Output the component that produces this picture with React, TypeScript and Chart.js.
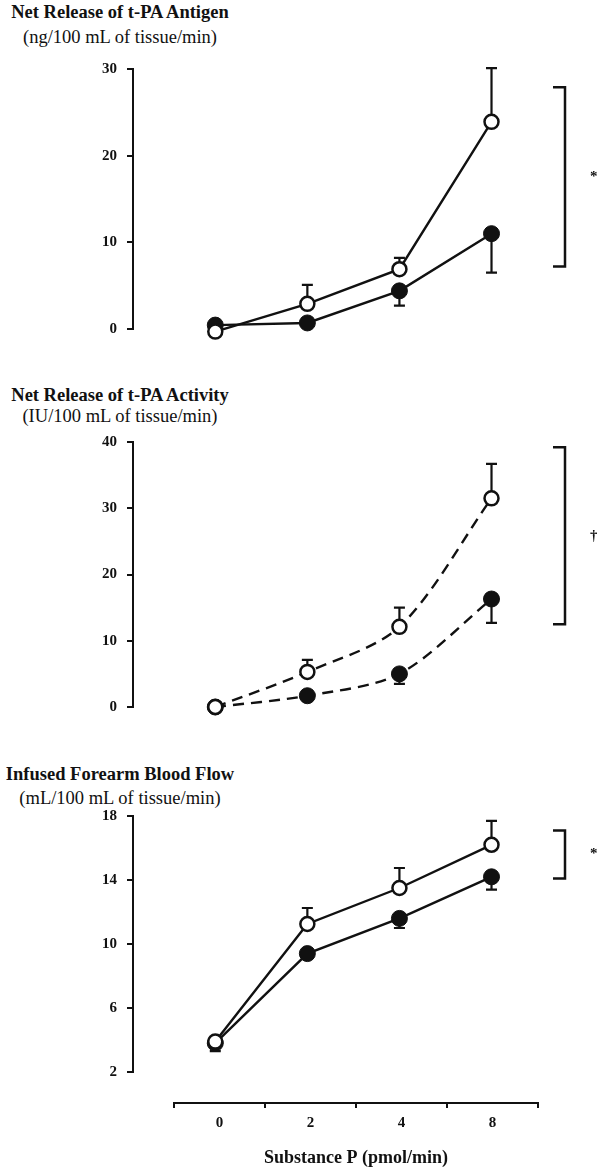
import React, { useEffect, useRef } from 'react';
import { Chart, registerables } from 'chart.js';
Chart.register(...registerables);

// ---- data ----
const doseLabels = ['0', '2', '4', '8'];
const doseIndex = [0, 1, 2, 3];

const antigenOpen = [-0.3, 2.9, 6.9, 23.9];
const antigenFilled = [0.45, 0.7, 4.4, 11.0];
const antigenOpenErrTop = [null, 5.1, 8.2, 30.1];
const antigenFilledErrBottom = [null, null, 2.7, 6.5];
const antigenBracket = [27.9, 7.2];
const antigenTicks = [0, 10, 20, 30];

const activityOpen = [0, 5.3, 12.1, 31.5];
const activityFilled = [0, 1.7, 5.0, 16.3];
const activityOpenErrTop = [null, 7.1, 15.0, 36.7];
const activityFilledErrBottom = [null, null, 3.5, 12.7];
const activityBracket = [39.2, 12.5];
const activityTicks = [0, 10, 20, 30, 40];

const flowOpen = [3.9, 11.25, 13.5, 16.2];
const flowFilled = [3.8, 9.4, 11.6, 14.2];
const flowOpenErrTop = [null, 12.25, 14.75, 17.7];
const flowFilledErrBottom = [3.3, null, 11.0, 13.4];
const flowBracket = [17.1, 14.1];
const flowTicks = [2, 6, 10, 14, 18];

// ---- styles / layout ----
const INK = '#111';
const SERIF = '"Liberation Serif", "Times New Roman", serif';
const W = 597;
const AXIS_X = 133;
const FIRST_X = 217;
const STEP_X = 94;
const BRACKET_X = 565;
const BRACKET_ARM = 12;

type PanelCfg = {
  top: number;
  height: number;
  areaTop: number;
  areaBottom: number;
  min: number;
  max: number;
  ticks: number[];
  open: number[];
  filled: number[];
  openErr: (number | null)[];
  filledErr: (number | null)[];
  bracket: number[];
  symbol: string;
  dashed: boolean;
};

const panels: PanelCfg[] = [
  {
    top: 45, height: 310, areaTop: 69, areaBottom: 329, min: 0, max: 30, ticks: antigenTicks,
    open: antigenOpen, filled: antigenFilled, openErr: antigenOpenErrTop, filledErr: antigenFilledErrBottom,
    bracket: antigenBracket, symbol: '*', dashed: false,
  },
  {
    top: 418, height: 316, areaTop: 442, areaBottom: 707, min: 0, max: 40, ticks: activityTicks,
    open: activityOpen, filled: activityFilled, openErr: activityOpenErrTop, filledErr: activityFilledErrBottom,
    bracket: activityBracket, symbol: '\u2020', dashed: true,
  },
  {
    top: 792, height: 306, areaTop: 816, areaBottom: 1072, min: 2, max: 18, ticks: flowTicks,
    open: flowOpen, filled: flowFilled, openErr: flowOpenErrTop, filledErr: flowFilledErrBottom,
    bracket: flowBracket, symbol: '*', dashed: false,
  },
];

const titles = [
  { main: 'Net Release of t-PA Antigen', sub: '(ng/100 mL of tissue/min)', mainTop: 3, subTop: 28 },
  { main: 'Net Release of t-PA Activity', sub: '(IU/100 mL of tissue/min)', mainTop: 386, subTop: 407 },
  { main: 'Infused Forearm Blood Flow', sub: '(mL/100 mL of tissue/min)', mainTop: 765, subTop: 789 },
];

function Panel({ cfg }: { cfg: PanelCfg }) {
  const ref = useRef<HTMLCanvasElement>(null);
  useEffect(() => {
    if (!ref.current) return;
    const xMin = (AXIS_X - FIRST_X) / STEP_X;
    const xMax = (W - FIRST_X) / STEP_X;
    const annot = {
      id: 'annot',
      beforeDatasetsDraw(chart: any) {
        const { ctx, scales } = chart;
        const x = scales.x, y = scales.y;
        ctx.save();
        ctx.strokeStyle = INK;
        ctx.lineWidth = 2.2;
        const draw = (vals: number[], ends: (number | null)[]) => {
          vals.forEach((v, i) => {
            const e = ends[i];
            if (e === null || e === undefined) return;
            const px = x.getPixelForValue(doseIndex[i]);
            const py = y.getPixelForValue(v);
            const pe = y.getPixelForValue(e);
            ctx.beginPath();
            ctx.moveTo(px, py);
            ctx.lineTo(px, pe);
            ctx.moveTo(px - 5.5, pe);
            ctx.lineTo(px + 5.5, pe);
            ctx.stroke();
          });
        };
        draw(cfg.open, cfg.openErr);
        draw(cfg.filled, cfg.filledErr);
        ctx.restore();
      },
      afterDatasetsDraw(chart: any) {
        const { ctx, scales } = chart;
        const y = scales.y;
        const t = y.getPixelForValue(cfg.bracket[0]);
        const b = y.getPixelForValue(cfg.bracket[1]);
        ctx.save();
        ctx.strokeStyle = INK;
        ctx.lineWidth = 2.5;
        ctx.beginPath();
        ctx.moveTo(BRACKET_X - BRACKET_ARM, t);
        ctx.lineTo(BRACKET_X, t);
        ctx.lineTo(BRACKET_X, b);
        ctx.lineTo(BRACKET_X - BRACKET_ARM, b);
        ctx.stroke();
        ctx.fillStyle = INK;
        ctx.font = `bold 15px ${SERIF}`;
        ctx.textAlign = 'left';
        ctx.textBaseline = 'middle';
        ctx.fillText(cfg.symbol, 590, (t + b) / 2);
        ctx.restore();
      },
    };
    const toPts = (arr: number[]) => arr.map((v, i) => ({ x: doseIndex[i], y: v }));
    const chart = new Chart(ref.current, {
      type: 'line',
      data: {
        datasets: [
          {
            label: 'open',
            data: toPts(cfg.open),
            borderColor: INK,
            borderWidth: 2.4,
            borderDash: cfg.dashed ? [11, 7] : [],
            tension: cfg.dashed ? 0.3 : 0,
            pointRadius: 7,
            pointBorderWidth: 2.5,
            pointBackgroundColor: '#fff',
            pointBorderColor: INK,
            clip: false,
          } as any,
          {
            label: 'filled',
            data: toPts(cfg.filled),
            borderColor: INK,
            borderWidth: 2.4,
            borderDash: cfg.dashed ? [11, 7] : [],
            tension: cfg.dashed ? 0.3 : 0,
            pointRadius: 8,
            pointBorderWidth: 1,
            pointBackgroundColor: INK,
            pointBorderColor: INK,
            clip: false,
          } as any,
        ],
      },
      options: {
        animation: false,
        responsive: false,
        layout: {
          padding: { top: cfg.areaTop - cfg.top, bottom: cfg.top + cfg.height - cfg.areaBottom, left: 0, right: 0 },
        },
        plugins: { legend: { display: false }, tooltip: { enabled: false } },
        scales: {
          x: { type: 'linear', min: xMin, max: xMax, display: false },
          y: {
            type: 'linear',
            position: 'left',
            min: cfg.min,
            max: cfg.max,
            afterBuildTicks: (s: any) => {
              s.ticks = cfg.ticks.map((v) => ({ value: v }));
            },
            afterFit: (s: any) => {
              s.width = AXIS_X;
            },
            grid: { drawOnChartArea: false, tickLength: 6, color: INK, lineWidth: 2 },
            border: { display: true, color: INK, width: 2 },
            ticks: { color: INK, padding: 10, font: { family: SERIF, weight: 'bold', size: 15 } },
          },
        },
      } as any,
      plugins: [annot],
    });
    return () => chart.destroy();
  }, [cfg]);
  return (
    <canvas
      ref={ref}
      width={W}
      height={cfg.height}
      style={{ position: 'absolute', left: 0, top: cfg.top, width: W, height: cfg.height }}
    />
  );
}

function DoseAxis() {
  const ref = useRef<HTMLCanvasElement>(null);
  const top = 1090;
  const height = 84;
  useEffect(() => {
    if (!ref.current) return;
    const chart = new Chart(ref.current, {
      type: 'line',
      data: { labels: doseLabels, datasets: [{ data: [], borderWidth: 0, pointRadius: 0 }] },
      options: {
        animation: false,
        responsive: false,
        layout: { padding: { left: 174, right: W - 538, top: 0, bottom: 0 } },
        plugins: { legend: { display: false }, tooltip: { enabled: false } },
        scales: {
          x: {
            type: 'category',
            offset: true,
            afterFit: (s: any) => {
              s.height = height - 13;
            },
            grid: { offset: true, drawOnChartArea: false, tickLength: 5, color: INK, lineWidth: 2 },
            border: { display: true, color: INK, width: 2 },
            ticks: { color: INK, padding: 6, maxRotation: 0, font: { family: SERIF, weight: 'bold', size: 15 } },
            title: {
              display: true,
              text: 'Substance P (pmol/min)',
              color: INK,
              font: { family: SERIF, weight: 'bold', size: 18 },
              padding: { top: 4, bottom: 5 },
            },
          },
          y: { display: false, min: 0, max: 1 },
        },
      } as any,
    });
    return () => chart.destroy();
  }, []);
  return (
    <canvas
      ref={ref}
      width={W}
      height={height}
      style={{ position: 'absolute', left: 0, top, width: W, height }}
    />
  );
}

export default function App() {
  return (
    <div style={{ position: 'absolute', left: 0, top: 0, width: W, height: 1174, background: '#fff', overflow: 'hidden' }}>
      {titles.map((t, i) => (
        <React.Fragment key={i}>
          <div
            style={{
              position: 'absolute', left: 0, top: t.mainTop, width: 240, textAlign: 'center',
              fontFamily: SERIF, fontWeight: 'bold', fontSize: 18.5, lineHeight: '18px', color: INK, whiteSpace: 'nowrap',
            }}
          >
            {t.main}
          </div>
          <div
            style={{
              position: 'absolute', left: 0, top: t.subTop, width: 240, textAlign: 'center',
              fontFamily: SERIF, fontSize: 18.5, lineHeight: '18px', color: INK, whiteSpace: 'nowrap',
            }}
          >
            {t.sub}
          </div>
        </React.Fragment>
      ))}
      {panels.map((p, i) => (
        <Panel key={i} cfg={p} />
      ))}
      <DoseAxis />
    </div>
  );
}
